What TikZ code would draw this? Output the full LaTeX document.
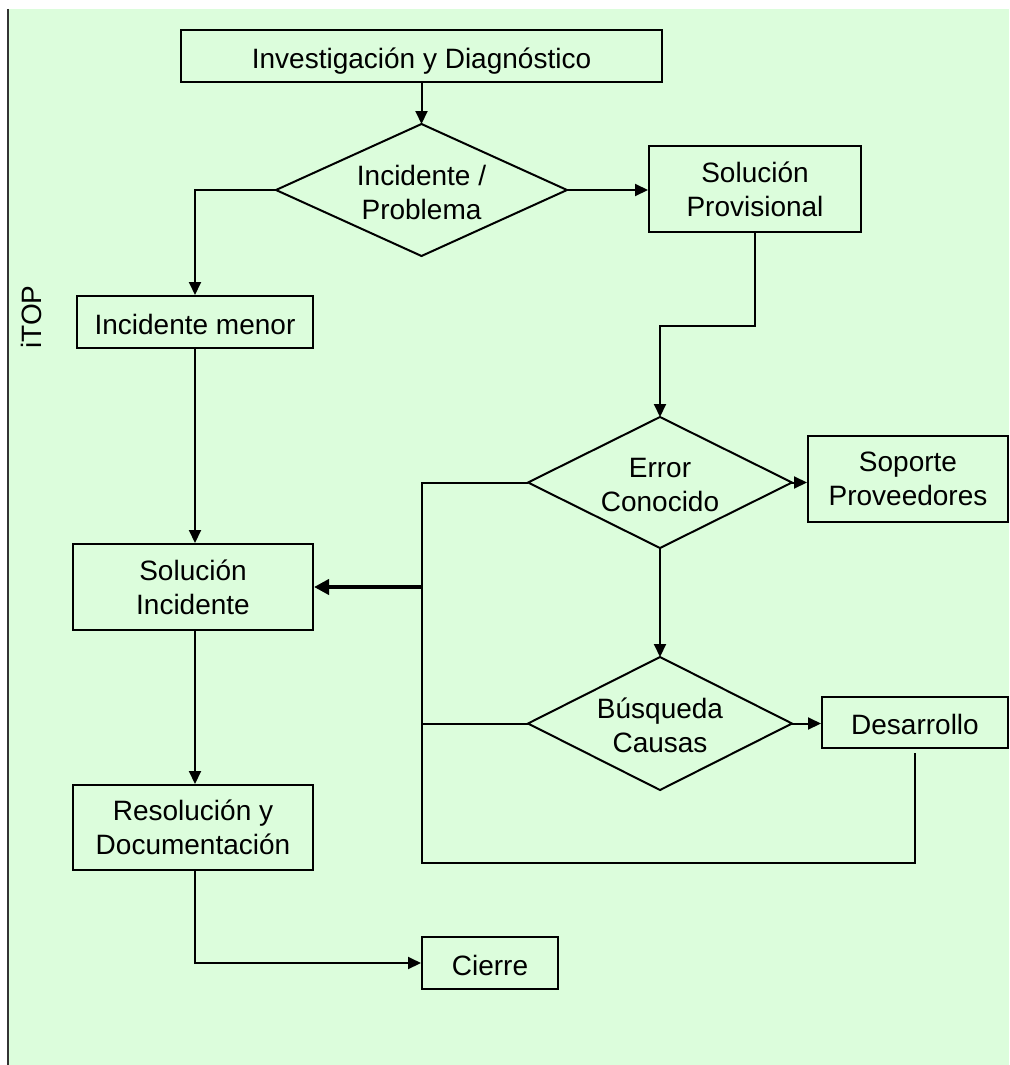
\documentclass[tikz,border=0pt]{standalone}
\usepackage{fontspec}
\setmainfont{Liberation Sans}
\usetikzlibrary{arrows.meta}
\definecolor{bggreen}{RGB}{220,253,220}
% decision: named text node, corner coordinates <name>-n/e/s/w, drawn outline
% #1 name, #2 x, #3 y, #4 half width, #5 half height, #6 text
\newcommand{\decisionnode}[6]{%
  \coordinate (#1-n) at (#2,#3-#5);
  \coordinate (#1-s) at (#2,#3+#5);
  \coordinate (#1-e) at (#2+#4,#3);
  \coordinate (#1-w) at (#2-#4,#3);
  \draw[line width=2pt, fill=bggreen, line join=miter] (#1-n) -- (#1-e) -- (#1-s) -- (#1-w) -- cycle;
  \node (#1) at (#2,#3+2) {#6};
}
\begin{document}
\begin{tikzpicture}[x=1pt,y=-1pt,
  every node/.style={font=\fontsize{28}{34}\selectfont, align=center, inner sep=0pt},
  box/.style={draw, line width=2pt, fill=bggreen, rectangle},
  oneline/.style={text height=24pt, text depth=0pt},
  link/.style={line width=2pt, -{Triangle[length=13pt,width=12pt]}},
  plain/.style={line width=2pt},
  heavy/.style={line width=4pt, -{Triangle[length=15pt,width=15pt]}}]
\useasboundingbox (0,0) rectangle (1009,1065);
% swimlane background and lane divider
\fill[bggreen] (8,9) rectangle (1009,1065);
\draw[line width=2pt, black!80] (8,9) -- (8,1065);
\node[rotate=90] (itop) at (31,317) {iTOP};

% process steps
\node[box, oneline, minimum width=481pt, minimum height=52pt] (inv) at (421.5,56) {Investigación y Diagnóstico};
\decisionnode{ip}{421.5}{190}{145.5}{66}{Incidente /\\Problema}
\node[box, minimum width=212pt, minimum height=86pt] (sp) at (755,189) {Solución\\Provisional};
\node[box, oneline, minimum width=236pt, minimum height=52pt] (im) at (195,322) {Incidente menor};
\decisionnode{ec}{660}{482.5}{132}{65.5}{Error\\Conocido}
\node[box, minimum width=200pt, minimum height=86pt] (spv) at (908,479) {Soporte\\Proveedores};
\node[box, minimum width=240pt, minimum height=86pt] (si) at (193,587) {Solución\\Incidente};
\decisionnode{bc}{660}{723.5}{132}{66.5}{Búsqueda\\Causas}
\node[box, oneline, minimum width=186pt, minimum height=51pt] (des) at (915,722.5) {Desarrollo};
\node[box, minimum width=240pt, minimum height=85pt] (rd) at (193,827.5) {Resolución y\\Documentación};
\node[box, oneline, minimum width=136pt, minimum height=52pt] (ci) at (490,963) {Cierre};

% return bus on the left of the problem branch
\coordinate (jtop) at (422,484);
\coordinate (jbot) at (422,863);

% connectors
\draw[link] (inv) -- (ip-n);
\draw[link] (ip-e) -- (sp.west |- ip-e);
\draw[link] (ip-w) -| (im.north);
\draw[link] (sp.south) -- ++(0,93) -| (ec-n);
\draw[link] (im.south) -- (im.south |- si.north);
\draw[link] (ec-e) -- (spv.west |- ec-e);
\draw[link] (ec-s) -- (bc-n);
\draw[link] (bc-e) -- (des.west |- bc-e);
\draw[plain] (ec-w) -- (ec-w -| jtop) -- (jbot) -| ([yshift=-4pt]des.south);
\draw[plain] (bc-w) -- (bc-w -| jtop);
\draw[heavy] (si.east -| jtop) -- (si.east);
\draw[link] (si.south -| im.south) -- (rd.north -| im.south);
\draw[link] (rd.south -| im.south) |- (ci.west);
\end{tikzpicture}
\end{document}
